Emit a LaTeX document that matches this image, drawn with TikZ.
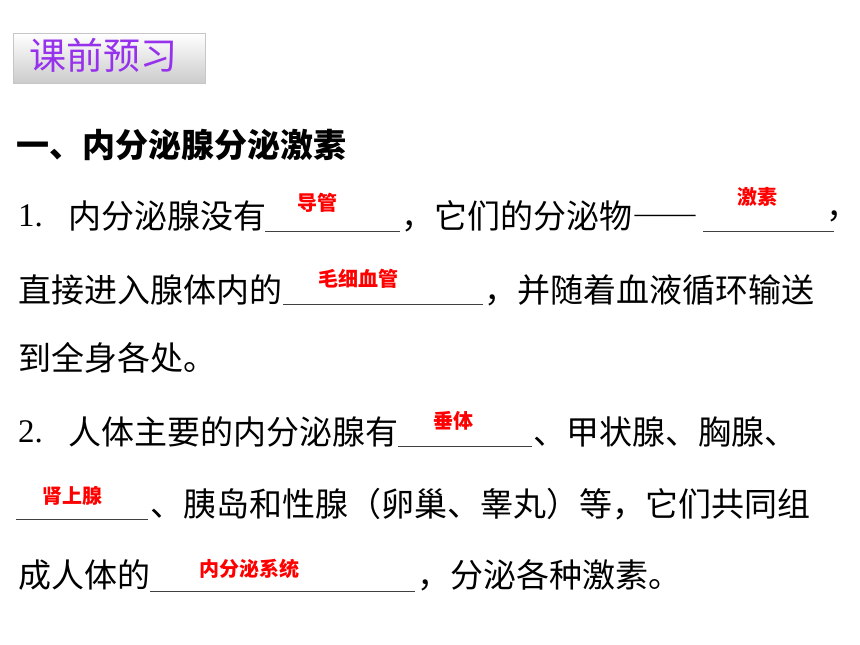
\documentclass[tikz,border=0pt]{standalone}
\usepackage{fontspec}
\setmainfont{Liberation Serif}
\newfontfamily\cjk{Noto Sans CJK SC}
\newfontfamily\cjkfw[RawFeature=+fwid]{Noto Sans CJK SC}
\usetikzlibrary{shadings}
\definecolor{titlepurple}{RGB}{150,50,235}
\definecolor{ansred}{RGB}{255,0,0}
\tikzset{
  body/.style={anchor=west, inner sep=0pt, font=\cjk\fontsize{33}{40}\selectfont, text=black},
  num/.style={anchor=west, inner sep=0pt, font=\fontsize{33}{40}\selectfont, text=black},
  head/.style={anchor=west, inner sep=0pt, font=\cjk\bfseries\fontsize{33}{40}\selectfont, text=black},
  ans/.style={inner sep=0pt, font=\cjk\bfseries\fontsize{20}{24}\selectfont, text=ansred},
  blankline/.style={draw=black!75, line width=0.9pt},
  titlebox/.style={draw=gray!45, line width=1pt, top color=white, bottom color=gray!40,
    minimum width=192pt, minimum height=50pt, inner sep=0pt},
  titletext/.style={inner sep=0pt, font=\cjk\fontsize{37}{40}\selectfont, text=titlepurple}
}
\begin{document}
\begin{tikzpicture}[x=1pt,y=-1pt]
\useasboundingbox (0,0) rectangle (860,645);
\fill[white] (0,0) rectangle (860,645);
% title
\node[titlebox] (title) at (109,58) {};
\node[titletext] (titlet) at (104,55) {课前预习};
% heading
\node[head] (h1) at (16,145) {一、内分泌腺分泌激素};
% line 1
\node[num] (n1) at (18,216) {1.};
\node[body] (l1a) at (68,216) {内分泌腺没有};
\coordinate (b1s) at (265,231); \coordinate (b1e) at (400,231);
\node[body] (l1b) at (401,216) {，它们的分泌物{\cjkfw ——}};
\coordinate (b2s) at (703,231); \coordinate (b2e) at (834,231);
\node[body] (l1c) at (826,216) {，};
% line 2
\node[body] (l2a) at (18,290) {直接进入腺体内的};
\coordinate (b3s) at (283,304); \coordinate (b3e) at (483,304);
\node[body] (l2b) at (484,290) {，并随着血液循环输送};
% line 3
\node[body] (l3) at (18,358) {到全身各处。};
% line 4
\node[num] (n2) at (18,432) {2.};
\node[body] (l4a) at (68,432) {人体主要的内分泌腺有};
\coordinate (b4s) at (398,446); \coordinate (b4e) at (532,446);
\node[body] (l4b) at (533,432) {、甲状腺、胸腺、};
% line 5
\coordinate (b5s) at (16,519); \coordinate (b5e) at (148,519);
\node[body] (l5) at (150,504) {、胰岛和性腺（卵巢、睾丸）等，它们共同组};
% line 6
\node[body] (l6a) at (18,575) {成人体的};
\coordinate (b6s) at (150,591); \coordinate (b6e) at (415,591);
\node[body] (l6b) at (417,575) {，分泌各种激素。};
% blanks
\draw[blankline] (b1s) -- (b1e);
\draw[blankline] (b2s) -- (b2e);
\draw[blankline] (b3s) -- (b3e);
\draw[blankline] (b4s) -- (b4e);
\draw[blankline] (b5s) -- (b5e);
\draw[blankline] (b6s) -- (b6e);
% answers
\node[ans] (a1) at (317,203) {导管};
\node[ans] (a2) at (757,197) {激素};
\node[ans] (a3) at (358,279) {毛细血管};
\node[ans] (a4) at (453,421) {垂体};
\node[ans] (a5) at (72,496) {肾上腺};
\node[ans] (a6) at (249,569) {内分泌系统};
\end{tikzpicture}
\end{document}
